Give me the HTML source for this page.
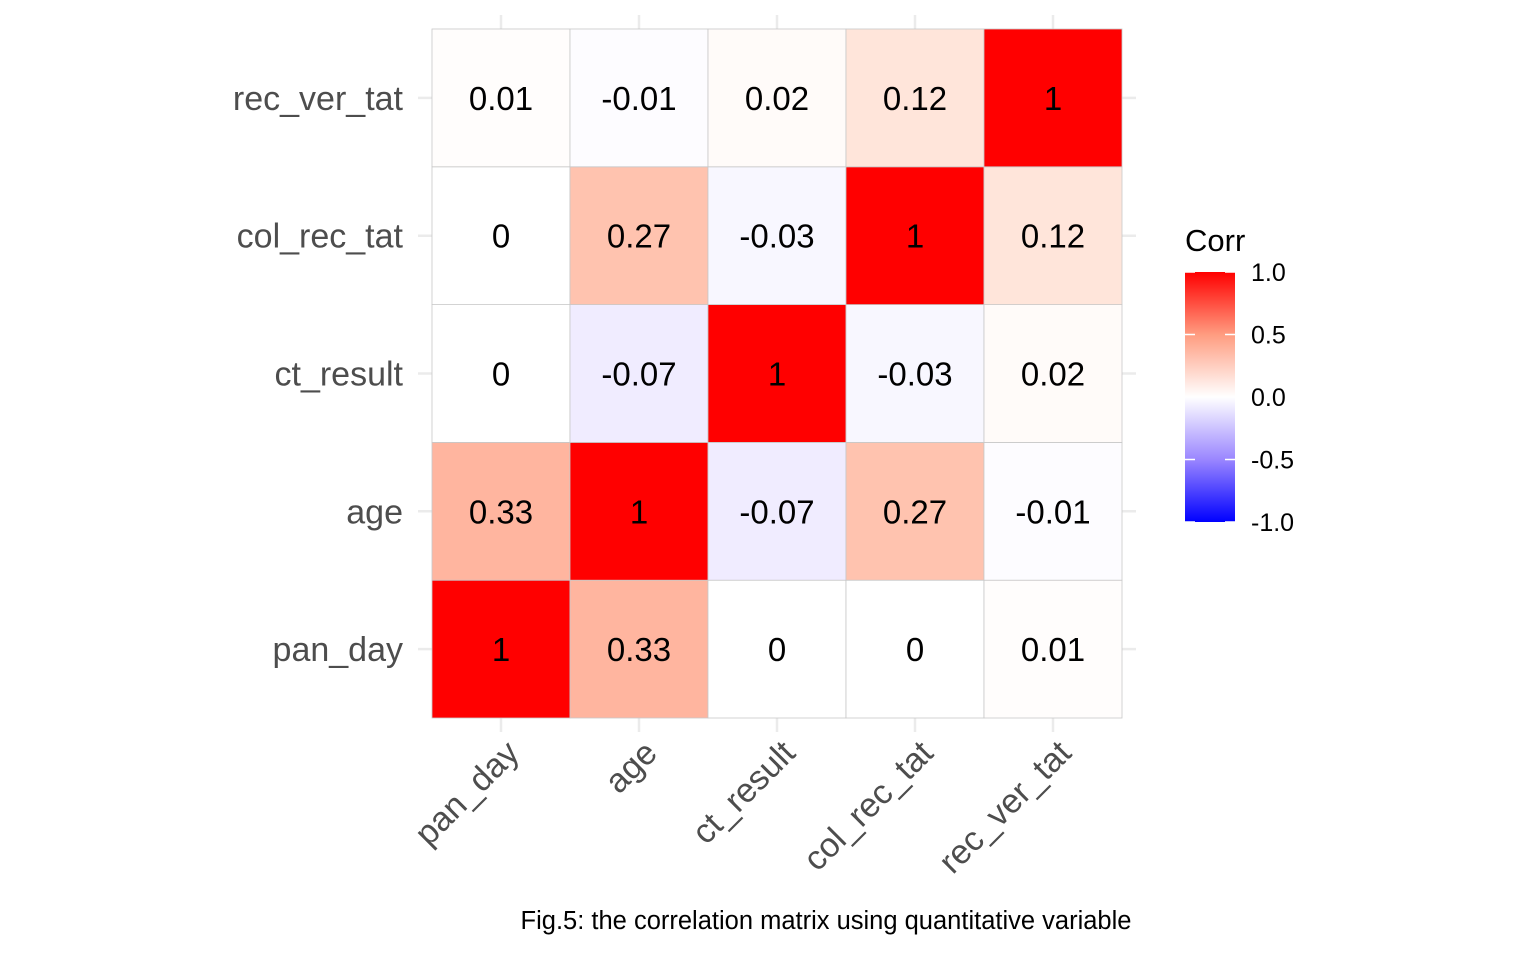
<!DOCTYPE html>
<html><head><meta charset="utf-8"><style>
body{margin:0;background:#fff}
svg text{font-family:"Liberation Sans",Arial,sans-serif}
</style></head><body>
<svg width="1540" height="951" viewBox="0 0 1540 951">
<g id="grid"></g><g id="tiles"></g><g id="labels"></g>
<g id="legend">
<defs><linearGradient id="lg" x1="0" y1="1" x2="0" y2="0">
<stop offset="0" stop-color="#0000FF"/><stop offset="0.25" stop-color="#9A86FF"/><stop offset="0.5" stop-color="#FFFFFF"/><stop offset="0.75" stop-color="#FF9C80"/><stop offset="1" stop-color="#FF0000"/></linearGradient></defs>
<text x="1185" y="251" font-size="31" fill="#000">Corr</text>
<rect x="1185" y="272" width="50" height="250" fill="url(#lg)"/>
<g id="legticks"></g>
</g>
<text x="826" y="929" font-size="25.5" text-anchor="middle" fill="#000">Fig.5: the correlation matrix using quantitative variable</text>
</svg>
<script>
const vars=["pan_day","age","ct_result","col_rec_tat","rec_ver_tat"];
const corr=[
[1,0.33,0,0,0.01],
[0.33,1,-0.07,0.27,-0.01],
[0,-0.07,1,-0.03,0.02],
[0,0.27,-0.03,1,0.12],
[0.01,-0.01,0.02,0.12,1]];
const legendTicks=[1.0,0.5,0.0,-0.5,-1.0];
const legendLabels=["1.0","0.5","0.0","-0.5","-1.0"];
const X0=432,Y0=29,W=690,H=689,n=vars.length,cw=W/n,ch=H/n;
const xs=i=>X0+i*cw, ys=j=>Y0+H-(j+1)*ch;
const NS="http://www.w3.org/2000/svg";
function mk(t,a,p){const e=document.createElementNS(NS,t);for(const k in a)e.setAttribute(k,a[k]);p.appendChild(e);return e;}
function col(v){let r,g,b;
 if(v>=0){const f=Math.pow(1-v,0.85);r=255;g=Math.round(255*f);b=Math.round(255*f-25*v*(1-v)*4);}
 else{const f=Math.pow(1+v,0.85);b=255;r=Math.round(255*f);g=Math.round(255*f-(1+v)*(-v)*60);}
 return `rgb(${r},${Math.max(0,g)},${Math.max(0,b)})`;}
const grid=document.getElementById('grid'),tiles=document.getElementById('tiles'),labels=document.getElementById('labels');
for(let i=0;i<n;i++){
 const cx=xs(i)+cw/2, cy=ys(i)+ch/2;
 let l=mk('line',{x1:cx,x2:cx,y1:15,y2:732,stroke:'#EBEBEB','stroke-width':2.5},grid);
 
 
 l=mk('line',{x1:418,x2:1136,y1:cy,y2:cy,stroke:'#EBEBEB','stroke-width':2.5},grid);
 
 
 let t=mk('text',{x:403,y:cy+12,'font-size':34,'text-anchor':'end',fill:'#4D4D4D'},labels);
 t.textContent=vars[i];
 
 
 t=mk('text',{x:cx+20,y:755,'font-size':34,'text-anchor':'end',fill:'#4D4D4D',transform:`rotate(-45 ${cx+20} 755)`},labels);
 t.textContent=vars[i];
 
 
}
for(let j=0;j<n;j++)for(let i=0;i<n;i++){
 const v=corr[j][i];
 const r=mk('rect',{x:xs(i),y:ys(j),width:cw,height:ch,fill:col(v),stroke:'#C8C8C8','stroke-width':0.8},tiles);
 
 
 const t=mk('text',{x:xs(i)+cw/2,y:ys(j)+ch/2+12,'font-size':33,'text-anchor':'middle',fill:'#000'},tiles);
 t.textContent=String(v);
 
 
}
const lt=document.getElementById('legticks');
legendTicks.forEach((v,k)=>{
 const y=272+(1-v)/2*250;
 let l=mk('line',{x1:1185,x2:1195,y1:y,y2:y,stroke:'#fff','stroke-width':1.5},lt);
 
 
 l=mk('line',{x1:1225,x2:1235,y1:y,y2:y,stroke:'#fff','stroke-width':1.5},lt);
 
 
 const t=mk('text',{x:1251,y:y+9,'font-size':25,fill:'#000'},lt);
 t.textContent=legendLabels[k];
 
 
});
</script>
</body></html>
